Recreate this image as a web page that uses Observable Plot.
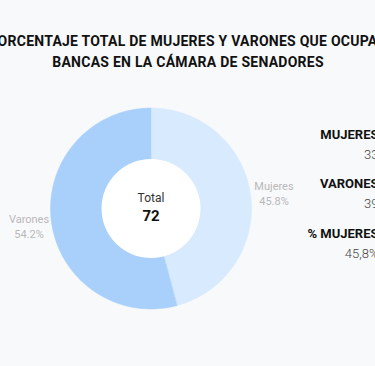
<!DOCTYPE html>
<html>
<head>
<meta charset="utf-8">
<script src="https://cdn.jsdelivr.net/npm/d3@7"></script>
<script src="https://cdn.jsdelivr.net/npm/@observablehq/plot@0.6"></script>
<style>
  html, body { margin: 0; padding: 0; background: #f8f9fb; }
  #chart { width: 375px; height: 366px; overflow: hidden; }
  svg { display: block; }
  .title-text text { letter-spacing: 0.25px; }
</style>
</head>
<body>
<div id="chart"></div>
<script>
// ---- data ----
const titleLines = [
  "PORCENTAJE TOTAL DE MUJERES Y VARONES QUE OCUPAN",
  "BANCAS EN LA CÁMARA DE SENADORES"
];
const categories = ["Mujeres", "Varones"];
const seats = [33, 39];
const percentLabels = ["45.8%", "54.2%"];
const sliceColors = ["#d8eafd", "#a9d0fa"];
const totalLabel = "Total";
const totalValue = 72;
const sideLabels = ["MUJERES", "VARONES", "% MUJERES"];
const sideValues = ["33", "39", "45,8%"];

// ---- layout ----
const W = 375, H = 366;
const cx = 150.5, cy = 208, R = 100.5, r0 = 49.5;

const pie = d3.pie().sort(null).value(d => d.value);
const slices = pie(categories.map((c, i) => ({name: c, value: seats[i], color: sliceColors[i], pct: percentLabels[i]})));

function arcPoints(s) {
  const n = 120, pts = [];
  for (let k = 0; k <= n; k++) {
    const a = s.startAngle + (s.endAngle - s.startAngle) * k / n;
    pts.push({x: cx + R * Math.sin(a), y: cy - R * Math.cos(a)});
  }
  pts.push({x: cx, y: cy});
  return pts;
}

const sliceMarks = slices.map(s =>
  Plot.line(arcPoints(s), {x: "x", y: "y", fill: s.data.color, stroke: s.data.color, strokeWidth: 0.5, curve: "linear-closed"})
);

// slice labels
const labelPos = [{x: 273.5, y: 186}, {x: 28.5, y: 219}];
const sliceLabels = slices.map((s, i) => ({
  x: labelPos[i].x, y: labelPos[i].y, name: s.data.name, pct: s.data.pct
}));

const titleRows = titleLines.map((t, i) => ({t, y: 41 + i * 21}));
const sideRows = sideLabels.map((l, i) => ({l, v: sideValues[i], y: 134 + i * 49.5}));

const plot = Plot.plot({
  width: W, height: H,
  margin: 0,
  x: {type: "linear", domain: [0, W], range: [0, W], axis: null},
  y: {type: "linear", domain: [0, H], range: [0, H], axis: null},
  style: {background: "#f8f9fb", fontFamily: "Roboto, sans-serif"},
  marks: [
    ...sliceMarks,
    // white hole
    Plot.dot([{x: cx, y: cy}], {x: "x", y: "y", r: r0, fill: "#ffffff", stroke: "none"}),
    // title
    Plot.text(titleRows, {x: () => W / 2, y: "y", text: "t", fontSize: 14, fontWeight: 700, fill: "#111", fontFamily: "Roboto, sans-serif", textAnchor: "middle", className: "title-text"}),
    // center total
    Plot.text([totalLabel], {x: () => cx, y: () => cy - 10, text: d => d, fontSize: 12, fill: "#333"}),
    Plot.text([totalValue], {x: () => cx, y: () => cy + 8, text: d => String(d), fontSize: 15, fontWeight: 700, fill: "#111"}),
    // slice labels
    Plot.text(sliceLabels, {x: "x", y: "y", text: "name", fontSize: 11, fill: "#b8b8b8"}),
    Plot.text(sliceLabels, {x: "x", y: d => d.y + 14.5, text: "pct", fontSize: 11, fill: "#b8b8b8"}),
    // side column
    Plot.text(sideRows, {x: () => 378, y: "y", text: "l", textAnchor: "end", fontSize: 13, fontWeight: 700, fill: "#111"}),
    Plot.text(sideRows, {x: () => 378, y: d => d.y + 20, text: "v", textAnchor: "end", fontSize: 13, fontWeight: 300, fill: "#444"})
  ]
});
document.getElementById("chart").appendChild(plot);
</script>
</body>
</html>
